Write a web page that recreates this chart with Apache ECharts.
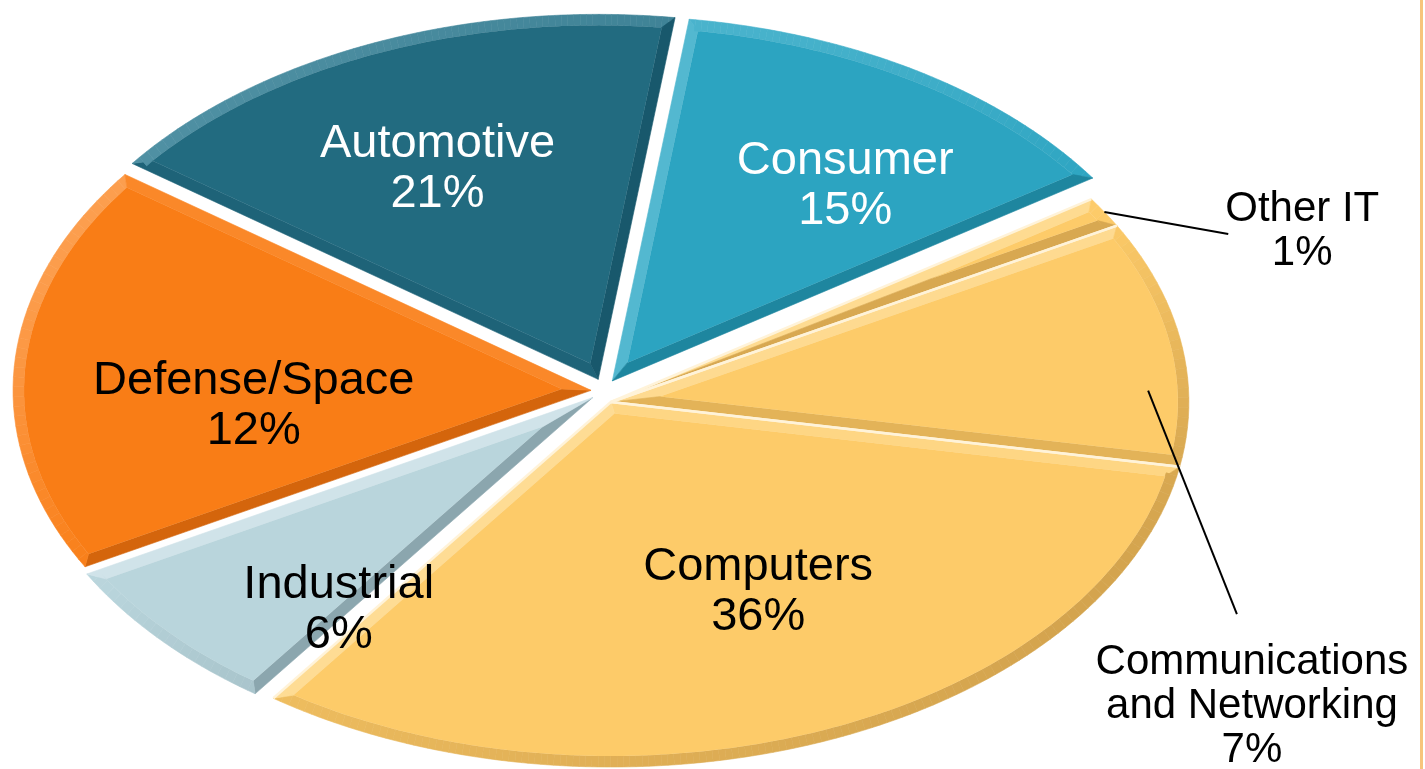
<!DOCTYPE html>
<html>
<head>
<meta charset="utf-8">
<title>Market share by application</title>
<script src="https://cdn.jsdelivr.net/npm/echarts@6/dist/echarts.min.js"></script>
<style>
  html, body { margin: 0; padding: 0; background: #ffffff; }
  #chart { width: 1425px; height: 769px; }
</style>
</head>
<body>
<div id="chart"></div>
<script>
// Application segments, listed clockwise from the top
const categories = ['Consumer', 'Other IT', 'Communications and Networking', 'Computers', 'Industrial', 'Defense/Space', 'Automotive'];
const shares = [15, 1, 7, 36, 6, 12, 21];
const labelNames = ['Consumer', 'Other IT', 'Communications\nand Networking', 'Computers', 'Industrial', 'Defense/Space', 'Automotive'];

// Drawing settings
const START_ANGLE = 78;   // screen angle (deg) where the first slice begins
const EXPLODE = 13;       // px each slice group is pulled out
const BEVEL = 11;         // px width of the bevelled rim
const LIGHT = [-Math.SQRT1_2, -Math.SQRT1_2]; // light from the upper left

const yellow = { face: '#FDCB69', light: '#FEDC94', dark: '#D4A44E', text: '#000000', seam: '#FFF3D9' };
const sliceStyle = {
  'Consumer':      { face: '#2CA4C1', light: '#5BBCD3', dark: '#1D849C', text: '#ffffff', group: 'consumer',   label: { t: 0.69, f: 0.67 } },
  'Other IT':      Object.assign({ group: 'it', label: { t: 0.5, f: 1.0, line: [1.080, 0.43], at: [1.208, 0.436] } }, yellow),
  'Communications and Networking':
                   Object.assign({ group: 'it', label: { t: 0.7, f: 0.93, line: [1.095, -0.611], at: [1.121, -0.863] } }, yellow),
  'Computers':     Object.assign({ group: 'it', label: { t: 0.346, f: 0.58 } }, yellow),
  'Industrial':    { face: '#B9D5DC', light: '#D2E5EA', dark: '#8BA6AE', text: '#000000', group: 'industrial', label: { t: 0.06, f: 0.73 } },
  'Defense/Space': { face: '#F97D16', light: '#FC9E4E', dark: '#D0620B', text: '#000000', group: 'defense',    label: { t: 0.377, f: 0.585 } },
  'Automotive':    { face: '#226B80', light: '#4F90A3', dark: '#165468', text: '#ffffff', group: 'automotive', label: { t: 0.36, f: 0.64 } }
};

const FONT_INSIDE = '47px "Liberation Sans", Arial, sans-serif';
const FONT_OUTSIDE = '42px "Liberation Sans", Arial, sans-serif';

const total = shares.reduce((a, b) => a + b, 0);

function sliceAngles(i) {
  let cum = 0;
  for (let k = 0; k < i; k++) cum += shares[k];
  const a0 = START_ANGLE - cum / total * 360;
  return [a0, a0 - shares[i] / total * 360];
}

function groupSpan(i) {
  const g = sliceStyle[categories[i]].group;
  let hi = -Infinity, lo = Infinity;
  categories.forEach((c, k) => {
    if (sliceStyle[c].group === g) {
      const [s, e] = sliceAngles(k);
      hi = Math.max(hi, s);
      lo = Math.min(lo, e);
    }
  });
  return [hi, lo];
}

function hexToRgb(h) {
  const n = parseInt(h.slice(1), 16);
  return [(n >> 16) & 255, (n >> 8) & 255, n & 255];
}
function mix(a, b, t) {
  const A = hexToRgb(a), B = hexToRgb(b);
  return 'rgb(' + A.map((v, i) => Math.round(v + (B[i] - v) * t)).join(',') + ')';
}

// Offset a convex polygon inwards by d pixels (mitred corners)
function inset(pts, d) {
  const n = pts.length;
  let area = 0;
  for (let i = 0; i < n; i++) {
    const p = pts[i], q = pts[(i + 1) % n];
    area += p[0] * q[1] - q[0] * p[1];
  }
  const sgn = area > 0 ? 1 : -1;
  const normals = [];
  for (let i = 0; i < n; i++) {
    const p = pts[i], q = pts[(i + 1) % n];
    const dx = q[0] - p[0], dy = q[1] - p[1];
    const L = Math.hypot(dx, dy) || 1;
    normals.push([-dy / L * sgn, dx / L * sgn]);
  }
  const out = [];
  for (let i = 0; i < n; i++) {
    const a = normals[(i - 1 + n) % n], b = normals[i];
    const den = 1 + a[0] * b[0] + a[1] * b[1];
    const k = d / Math.max(den, 1e-4);
    out.push([pts[i][0] + (a[0] + b[0]) * k, pts[i][1] + (a[1] + b[1]) * k]);
  }
  return { pts: out, normals: normals };
}

function renderItem(params, api) {
  const i = params.dataIndex;
  const name = categories[i];
  const st = sliceStyle[name];
  const value = api.value(1);

  let cum = 0;
  for (let k = 0; k < i; k++) cum += shares[k];
  const a0 = START_ANGLE - cum / total * 360;
  const a1 = a0 - value / total * 360;

  const C = api.coord([0, 0]);
  const R = [api.coord([1, 0])[0] - C[0], C[1] - api.coord([0, 1])[1]];

  // data-space point at a screen angle, f = fraction of the rim radius
  function dataAt(deg, f) {
    const p = deg * Math.PI / 180, c = Math.cos(p), s = Math.sin(p);
    const k = 1 / Math.hypot(c / R[0], s / R[1]);
    return [f * k * c / R[0], f * k * s / R[1]];
  }

  const [gs, ge] = groupSpan(i);
  const gm = (gs + ge) / 2 * Math.PI / 180;
  const off = [EXPLODE * Math.cos(gm), -EXPLODE * Math.sin(gm)];
  const px = (d) => { const p = api.coord(d); return [p[0] + off[0], p[1] + off[1]]; };

  const V = [C[0] + off[0], C[1] + off[1]];
  const steps = Math.max(2, Math.ceil(Math.abs(a1 - a0) / 1));
  const outer = [V];
  for (let s = 0; s <= steps; s++) {
    outer.push(px(dataAt(a0 + (a1 - a0) * s / steps, 1)));
  }
  const ins = inset(outer, BEVEL);
  const inner = ins.pts;

  const children = [];
  const n = outer.length;
  for (let e = 0; e < n; e++) {
    const nx = -ins.normals[e][0], ny = -ins.normals[e][1];
    const sh = nx * LIGHT[0] + ny * LIGHT[1];
    const col = sh >= 0 ? mix(st.face, st.light, sh) : mix(st.face, st.dark, -sh);
    const e2 = (e + 1) % n;
    children.push({
      type: 'polygon',
      shape: { points: [outer[e], outer[e2], inner[e2], inner[e]] },
      style: { fill: col, stroke: col, lineWidth: 0.6 },
      z2: 1
    });
  }
  children.push({
    type: 'polygon',
    shape: { points: inner },
    style: { fill: st.face },
    z2: 2
  });

  if (st.seam) {
    [outer[1], outer[n - 1]].forEach(p => {
      children.push({
        type: 'line',
        shape: { x1: V[0], y1: V[1], x2: p[0], y2: p[1] },
        style: { stroke: st.seam, lineWidth: 2.5 },
        z2: 3
      });
    });
  }

  const text = labelNames[i] + '\n' + value + '%';
  const lab = st.label;
  const anchor = px(dataAt(a0 + (a1 - a0) * lab.t, lab.f));
  if (lab.at) {
    const end = api.coord(lab.line);
    const pos = api.coord(lab.at);
    children.push({
      type: 'line',
      shape: { x1: anchor[0], y1: anchor[1], x2: end[0], y2: end[1] },
      style: { stroke: '#000000', lineWidth: 2 },
      z2: 6
    });
    children.push({
      type: 'text',
      x: pos[0], y: pos[1],
      style: { text: text, fill: '#000000', font: FONT_OUTSIDE, align: 'center', verticalAlign: 'middle', lineHeight: 44 },
      z2: 6
    });
  } else {
    children.push({
      type: 'text',
      x: anchor[0], y: anchor[1],
      style: { text: text, fill: st.text, font: FONT_INSIDE, align: 'center', verticalAlign: 'middle', lineHeight: 50 },
      z2: 6
    });
  }

  return { type: 'group', children: children };
}

const chart = echarts.init(document.getElementById('chart'));
chart.setOption({
  animation: false,
  backgroundColor: '#ffffff',
  grid: { left: 26, top: 26, width: 1156, height: 730 },
  xAxis: { type: 'value', min: -1, max: 1, show: false },
  yAxis: { type: 'value', min: -1, max: 1, show: false },
  graphic: [{
    type: 'rect',
    left: 1420, top: 0,
    shape: { width: 3, height: 769 },
    style: { fill: '#F7C57C' }
  }],
  series: [{
    type: 'custom',
    coordinateSystem: 'cartesian2d',
    clip: false,
    renderItem: renderItem,
    encode: { x: -1, y: -1 },
    data: shares.map((v, i) => ({ name: categories[i], value: [i, v] }))
  }]
});
</script>
</body>
</html>
